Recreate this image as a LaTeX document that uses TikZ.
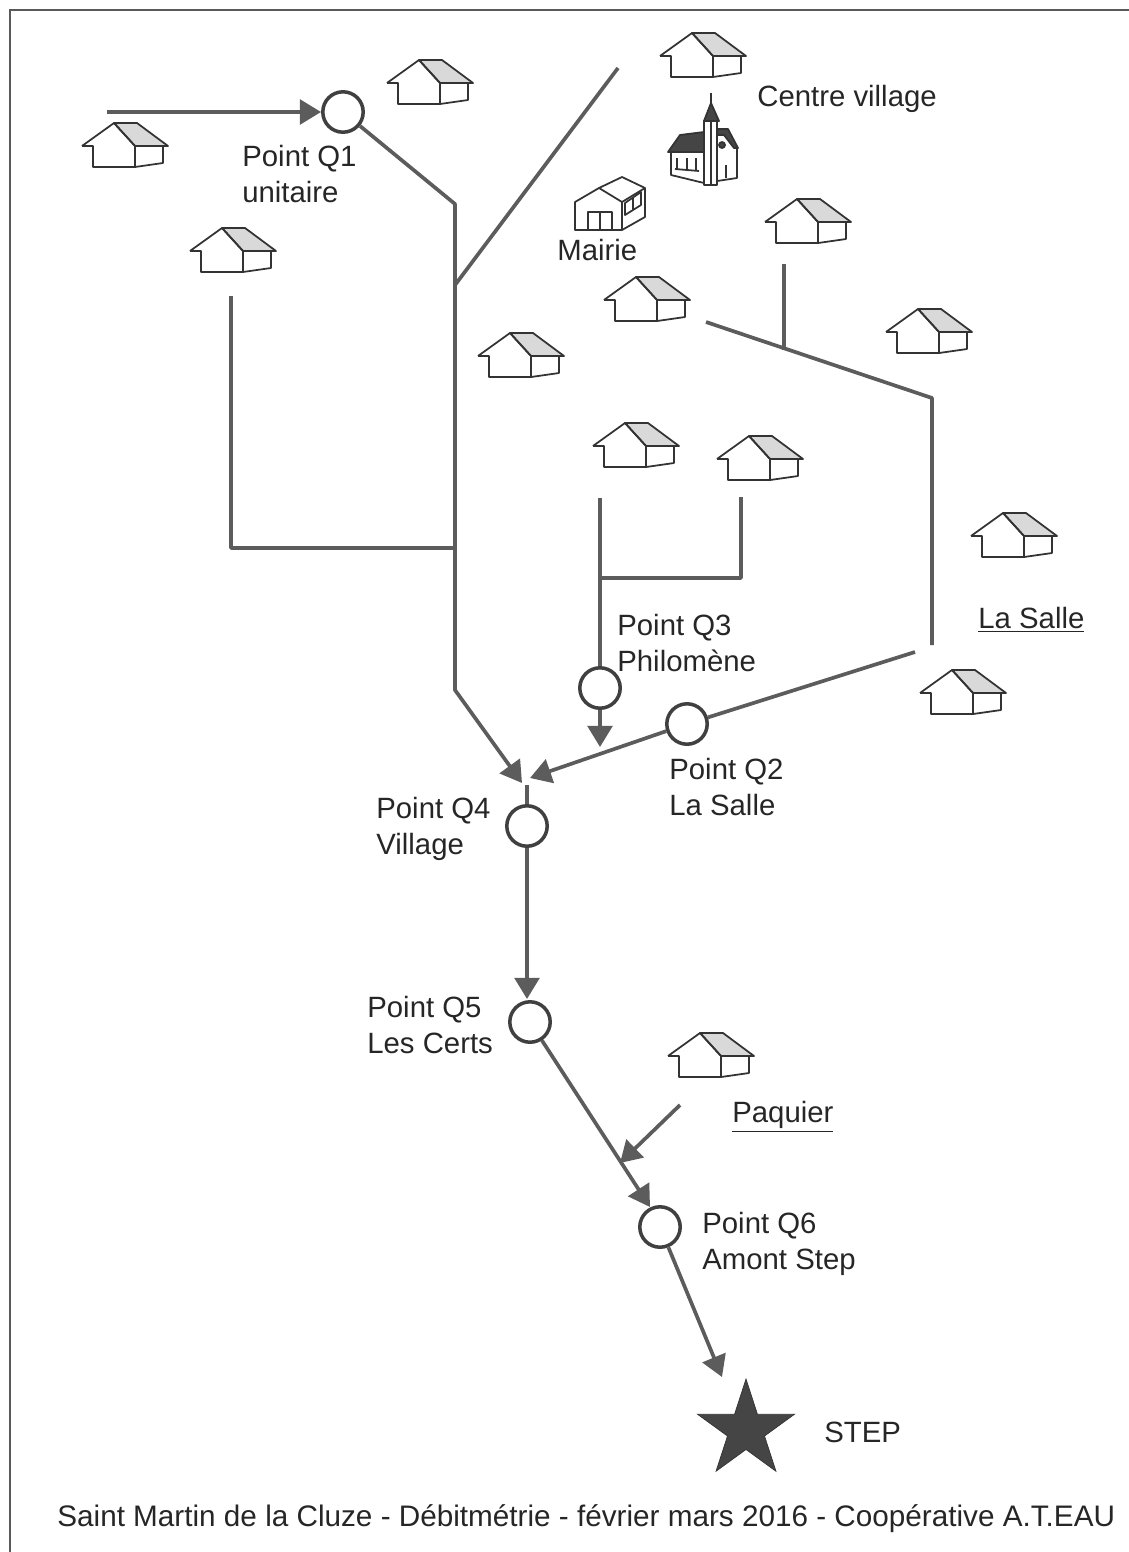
\documentclass[tikz,border=0pt]{standalone}
\usepackage{fontspec}
\setmainfont{Liberation Sans}
\usepackage{tikz}
\usetikzlibrary{arrows.meta}
\usetikzlibrary{shapes.geometric}
\definecolor{pipegray}{gray}{0.36}
\definecolor{roofgray}{gray}{0.85}
\definecolor{darkgray}{gray}{0.27}
\tikzset{
    x=0.02cm, y=-0.02cm,
    pipeline/.style={draw=pipegray, line width=2.1pt, line join=round},
    pipearrow/.style={pipeline, {-Triangle[length=12pt,width=14pt,fill=pipegray]}},
    point/.style={shape=circle, draw=black!75, line width=2pt, fill=white, minimum size=23pt, inner sep=0pt},
    label/.style={align=left, anchor=north west, inner sep=0pt, font=\fontsize{16.7}{20.5}\selectfont, text=black!85},
    house line/.style={draw=black!80, line width=1pt, line join=round},
    house/.pic={
        \filldraw[house line, fill=roofgray] (32,-23) -- (55,-23) -- (86,0) -- (53,0) -- cycle;
        \draw[house line] (0,0) -- (11,0) -- (11,21) -- (53,21) -- (81,17) -- (81,0);
        \draw[house line] (0,0) -- (32,-23) -- (53,0) -- (53,21);
    },
    church/.pic={
        \filldraw[house line, fill=darkgray] (668,152) -- (680,135) -- (704,132) -- (704,152) -- cycle;
        \filldraw[house line, fill=darkgray] (717,129) -- (728,129) -- (738,148) -- (734,148) -- (724,135) -- (717,135) -- cycle;
        \draw[house line] (671,152) -- (671,175) -- (704,183) -- (737,178) -- (737,148);
        \filldraw[house line, fill=white] (704,121) rectangle (717,185);
        \draw[house line] (711,121) -- (711,185);
        \filldraw[house line, fill=darkgray] (704,121) -- (711,103) -- (719,121) -- cycle;
        \draw[house line] (711,103) -- (711,93);
        \filldraw[house line, fill=darkgray] (722,145) circle (3);
        \foreach \px in {677,687,696} {
            \draw[house line] (\px,158) -- (\px,170);
        }
        \draw[house line] (726,165) -- (726,178);
        \draw[house line] (675,169) -- (699,171);
    },
    mairie/.pic={
        \draw[house line] (575,230) -- (575,202) -- (599,188) -- (622,202) -- (622,230) -- cycle;
        \draw[house line] (599,188) -- (622,177) -- (645,188) -- (622,202);
        \draw[house line] (645,188) -- (645,217) -- (622,230);
        \draw[house line] (588,230) -- (588,212) -- (612,212) -- (612,230);
        \draw[house line] (600,212) -- (600,230);
        \draw[house line] (625,215) -- (641,205) -- (641,192) -- (625,203) -- cycle;
        \draw[house line] (633,198) -- (633,210);
    }
}

\begin{document}
\begin{tikzpicture}
    \useasboundingbox (0,0) rectangle (1129,1552);
    \draw[draw=black!65, line width=1pt] (10,1552) -- (10,10) -- (1129,10);

    % houses
    \pic at (82,146) {house};
    \pic at (387,83) {house};
    \pic at (190,251) {house};
    \pic at (660,56) {house};
    \pic at (765,222) {house};
    \pic at (604,300) {house};
    \pic at (886,332) {house};
    \pic at (478,356) {house};
    \pic at (593,446) {house};
    \pic at (717,459) {house};
    \pic at (971,536) {house};
    \pic at (920,693) {house};
    \pic at (668,1056) {house};
    \pic at (0,0) {church};
    \pic at (0,0) {mairie};

    % measuring points
    \node[point] (q1) at (343,112) {};
    \node[point] (q2) at (687,724) {};
    \node[point] (q3) at (600,688) {};
    \node[point] (q4) at (527,826) {};
    \node[point] (q5) at (530,1022) {};
    \node[point] (q6) at (660,1227) {};
    \node[shape=star, star points=5, star point ratio=2.618, draw=black!80, fill=darkgray, minimum size=58pt, inner sep=0pt] (step) at (746,1430) {};

    % free ends and bends
    \coordinate (start) at (107,112);
    \coordinate (bend1) at (455,204);
    \coordinate (bend2) at (455,690);
    \coordinate (inq4) at (522,783);
    \coordinate (inq4b) at (530,778);
    \coordinate (topq4) at (527,785);
    \coordinate (inq5) at (527,999);
    \coordinate (church) at (618,68);
    \coordinate (joint1) at (455,285);
    \coordinate (west) at (231,296);
    \coordinate (west2) at (231,548);
    \coordinate (joint2) at (455,548);
    \coordinate (phil) at (600,498);
    \coordinate (philout) at (600,747);
    \coordinate (east) at (741,497);
    \coordinate (east2) at (741,578);
    \coordinate (joint3) at (598,578);
    \coordinate (north) at (784,264);
    \coordinate (joint4) at (784,350);
    \coordinate (salle) at (706,322);
    \coordinate (salle2) at (932,398);
    \coordinate (salle3) at (932,645);
    \coordinate (salle4) at (915,652);
    \coordinate (inq6) at (650,1207);
    \coordinate (paq) at (680,1105);
    \coordinate (paq2) at (620,1163);
    \coordinate (instep) at (722,1377);

    % pipes
    \path[pipearrow] (start) -- (q1);
    \path[pipearrow] (q1) -- (bend1) -- (bend2) -- (inq4);
    \path[pipeline] (church) -- (joint1);
    \path[pipeline] (west) -- (west2) -- (joint2);
    \path[pipeline] (phil) -- (q3);
    \path[pipearrow] (q3) -- (philout);
    \path[pipeline] (east) -- (east2) -- (joint3);
    \path[pipeline] (north) -- (joint4);
    \path[pipeline] (salle) -- (salle2) -- (salle3);
    \path[pipeline] (salle4) -- (q2);
    \path[pipearrow] (q2) -- (inq4b);
    \path[pipeline] (topq4) -- (q4);
    \path[pipearrow] (q4) -- (inq5);
    \path[pipearrow] (q5) -- (inq6);
    \path[pipearrow] (paq) -- (paq2);
    \path[pipearrow] (q6) -- (instep);

    % labels
    \node[label] (lq1) at (242,145) {Point Q1\\unitaire};
    \node[label] (lcentre) at (757,85) {Centre village};
    \node[label] (lmairie) at (557,239) {Mairie};
    \node[label] (lq3) at (617,614) {Point Q3\\Philomène};
    \node[label] (lsalle) at (978,607) {\underline{La Salle}};
    \node[label] (lq2) at (669,758) {Point Q2\\La Salle};
    \node[label] (lq4) at (376,797) {Point Q4\\Village};
    \node[label] (lq5) at (367,996) {Point Q5\\Les Certs};
    \node[label] (lpaquier) at (732,1101) {\underline{Paquier}};
    \node[label] (lq6) at (702,1212) {Point Q6\\Amont Step};
    \node[label] (lstep) at (824,1422) {STEP};
    \node[label] (lcaption) at (57,1504) {\fontsize{16.9}{20.5}\selectfont Saint Martin de la Cluze - Débitmétrie - février mars 2016 - Coopérative A.T.EAU};
\end{tikzpicture}
\end{document}
